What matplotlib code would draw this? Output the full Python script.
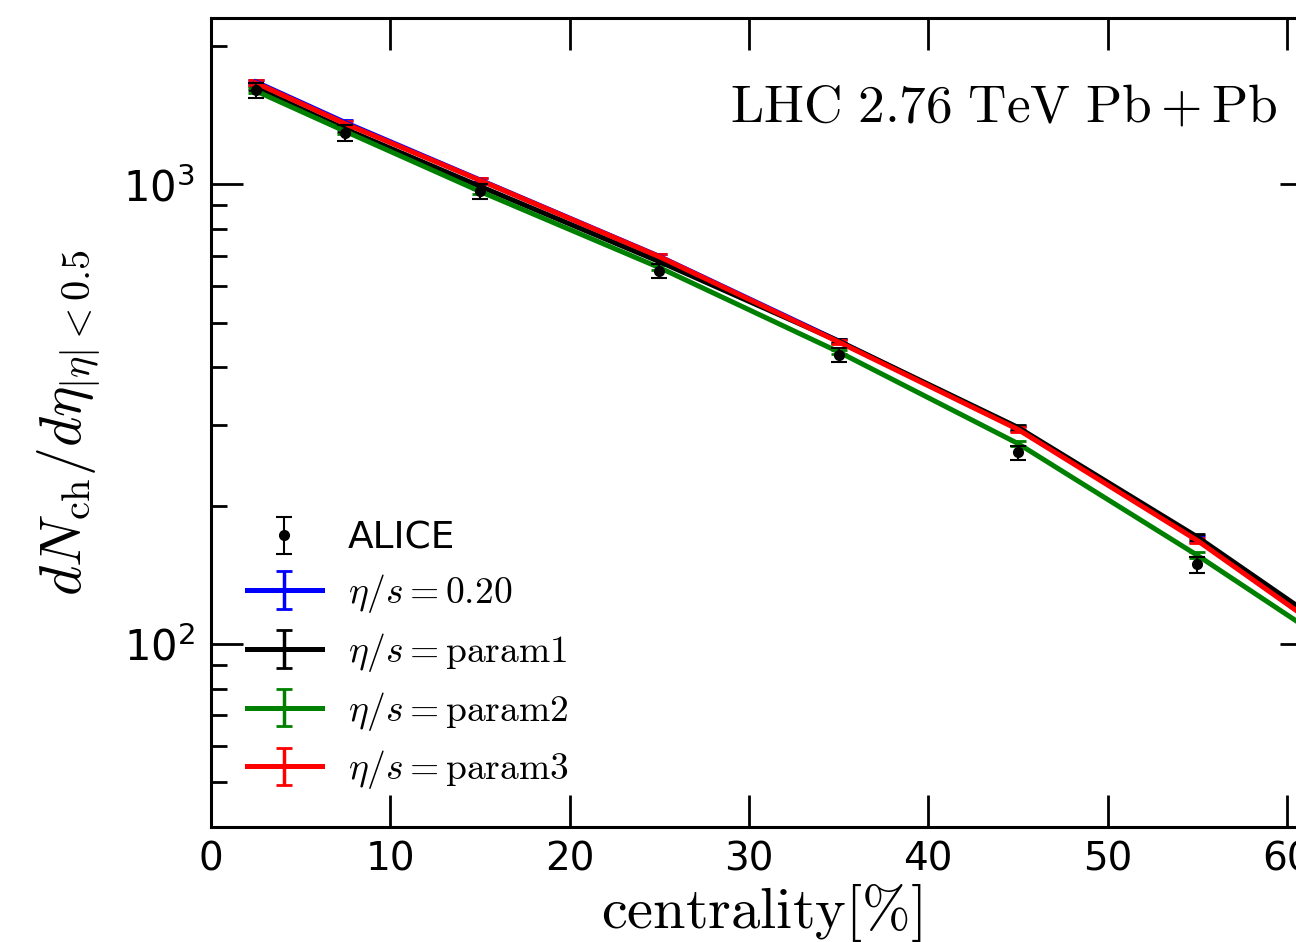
import numpy as np
import matplotlib
matplotlib.use("Agg")
import matplotlib.pyplot as plt

plt.rcParams['mathtext.fontset'] = 'cm'

# centrality bins (%)
cent = [2.5, 7.5, 15, 25, 35, 45, 55, 65, 75]
alice = [1601, 1294, 966, 649, 426, 261, 149, 76, 35.9]
alice_err = [60, 49, 37, 23, 15, 9, 6, 4, 2]

cent_model = [2.5, 7.5, 15, 25, 35, 45, 55, 65]
blue_vals = [1670, 1362, 1022, 697, 456, 294, 169, 89]
blue_err = [20, 16, 12, 8, 5, 3.5, 2.5, 1.5]
black_vals = [1620, 1318, 990, 679, 456, 296, 171, 92]
black_err = [20, 16, 12, 8, 5, 3.5, 2.5, 1.5]
green_vals = [1596, 1303, 965, 659, 432, 273, 156, 86]
green_err = [20, 16, 12, 8, 5, 3.5, 2.5, 1.5]
red_vals = [1662, 1354, 1020, 696, 454, 293, 168, 89]
red_err = [20, 16, 12, 8, 5, 3.5, 2.5, 1.5]

fig = plt.figure(figsize=(12.96, 9.42), dpi=100)
ax = fig.add_axes([211/1296, 115/942, 1101/1296, 809/942])

ax.errorbar(cent, alice, yerr=alice_err, fmt='o', color='k', ms=7,
            elinewidth=1.5, capsize=6, capthick=1.5, label='ALICE', zorder=5)

models = [(blue_vals, blue_err, 'b', r'$\eta/s=0.20$'),
          (black_vals, black_err, 'k', r'$\eta/s=\mathrm{param1}$'),
          (green_vals, green_err, 'g', r'$\eta/s=\mathrm{param2}$'),
          (red_vals, red_err, 'r', r'$\eta/s=\mathrm{param3}$')]
for vals, err, c, lab in models:
    ax.errorbar(cent_model, vals, yerr=err, fmt='-', color=c, lw=3.6,
                elinewidth=2.5, capsize=6, capthick=2, label=lab)

ax.set_yscale('log')
ax.set_xlim(0, 61.4)
ax.set_ylim(40, 2300)
ax.set_xticks([0, 10, 20, 30, 40, 50, 60])

ax.tick_params(which='both', direction='in', top=True, right=True)
ax.tick_params(axis='x', labelsize=28)
ax.tick_params(axis='y', labelsize=30)
ax.tick_params(which='major', length=23, width=2)
ax.tick_params(axis='x', which='major', pad=10)
ax.tick_params(axis='y', which='major', pad=11.5)
ax.tick_params(which='minor', length=11.5, width=2)
for s in ax.spines.values():
    s.set_linewidth(2.2)

ax.set_xlabel(r'$\mathrm{centrality[\%]}$', fontsize=42)
ax.set_ylabel(r'$dN_{\rm ch}/d\eta_{|\eta|<0.5}$', fontsize=41.5)
ax.xaxis.set_label_coords(0.5, -0.068)
ax.yaxis.set_label_coords(-0.098, 0.5)

ax.text(0.969, 0.89, r'$\mathrm{LHC\ 2.76\ TeV\ Pb+Pb}$', transform=ax.transAxes,
        fontsize=38.4, ha='right', va='center')

ax.legend(loc='lower left', frameon=False, fontsize=27, handlelength=2.0,
          handletextpad=0.7, labelspacing=0.42, borderaxespad=0.55)

fig.savefig('out.png', dpi=100)
